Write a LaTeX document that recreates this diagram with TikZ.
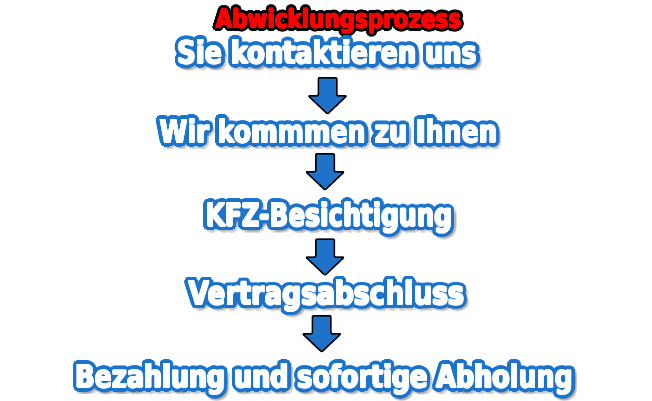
\documentclass[tikz,border=0pt]{standalone}
\usepackage{fontspec}
\setmainfont{DejaVu Sans}
\usepackage{graphicx}
\usepackage{xcolor}
\usetikzlibrary{positioning}

\definecolor{randblau}{RGB}{26,116,206}
\definecolor{pfeilblau}{RGB}{30,114,202}
\definecolor{titelrot}{RGB}{255,0,0}

% text squeezed to a given width, height kept
\newcommand{\eng}[2]{\resizebox{#1pt}{\height}{\bfseries #2}}

% white text, blue outline, soft shadow
\newcommand{\stufe}[5]{%
    \foreach \w in {0,20,...,340} {
        \node[schatten, shift={(2,2.5)}, shift={(\w:4.6)}] at (#2,#3) {\eng{#4}{#5}};
    }
    \foreach \w in {0,15,...,345} {
        \node[rand, shift={(\w:4.3)}] at (#2,#3) {\eng{#4}{#5}};
    }
    \foreach \w in {0,45,...,315} {
        \node[schrift, shift={(\w:0.8)}] at (#2,#3) {\eng{#4}{#5}};
    }
    \node[schrift] (#1) at (#2,#3) {\eng{#4}{#5}};
}

\tikzset{
    schrift/.style={anchor=base, inner sep=0pt, text=white, font=\fontsize{31.5}{36}\selectfont},
    rand/.style={schrift, text=randblau},
    schatten/.style={schrift, text=black, opacity=.07},
    titelschrift/.style={schrift, text=titelrot, font=\fontsize{25.5}{30}\selectfont},
    pfeil/.style={fill=pfeilblau, draw=black, line width=1.5pt, line join=round, rounded corners=1pt}
}

\begin{document}
\begin{tikzpicture}[x=1pt, y=-1pt]
    \fill[white] (0,0) rectangle (652,400);
    \useasboundingbox (0,0) rectangle (652,400);

    % title
    \foreach \w in {0,15,...,345} {
        \node[titelschrift, text=black, shift={(\w:3.4)}] at (338.5,28) {\eng{245.5}{Abwicklungsprozess}};
    }
    \foreach \w in {0,45,...,315} {
        \node[titelschrift, shift={(\w:0.7)}] at (338.5,28) {\eng{245.5}{Abwicklungsprozess}};
    }
    \node[titelschrift] (titel) at (338.5,28) {\eng{245.5}{Abwicklungsprozess}};

    % steps
    \stufe{kontakt}{327.5}{63.8}{299.4}{Sie kontaktieren uns}
    \stufe{besuch}{328.6}{142.8}{337.4}{Wir kommmen zu Ihnen}
    \stufe{besichtigung}{329.2}{226.2}{246.4}{KFZ-Besichtigung}
    \stufe{vertrag}{326.6}{304.5}{275.4}{Vertragsabschluss}
    \stufe{abholung}{324.5}{387.8}{497.4}{Bezahlung und sofortige Abholung}

    % arrows between the steps
    \foreach \x/\y in {327.5/77, 325/153, 325/238.3, 321.7/315} {
        \draw[pfeil] (\x-9.25,\y+0.75) -- ++(18.5,0) -- ++(0,18) -- ++(10,0) -- (\x,\y+37) -- (\x-19.25,\y+18.75) -- ++(10,0) -- cycle;
    }
\end{tikzpicture}
\end{document}
